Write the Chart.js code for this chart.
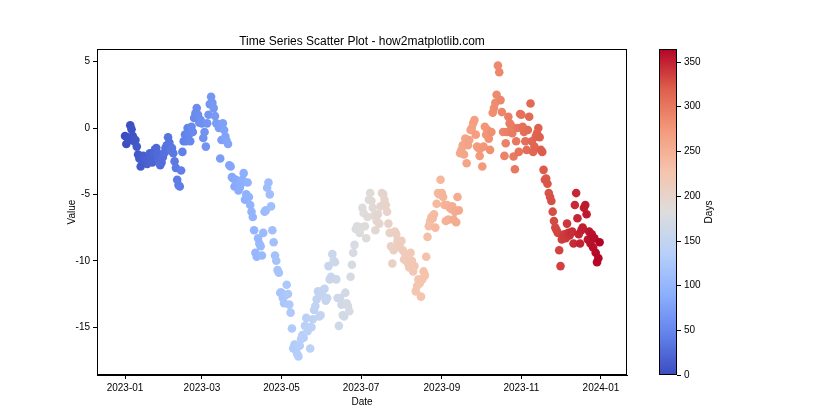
<!DOCTYPE html>
<html>
<head>
<meta charset="utf-8">
<script src="https://cdn.jsdelivr.net/npm/chart.js@4.4.1/dist/chart.umd.min.js"></script>
<style>
  html, body { margin: 0; padding: 0; background: #fff; }
  #wrap { width: 840px; height: 420px; position: relative; }
</style>
</head>
<body>
<div id="wrap"><canvas id="chart"></canvas></div>
<script>
// day-of-year ticks on the date axis
const tickDays = [0, 59, 120, 181, 243, 304, 365];
const tickLabels = ["2023-01", "2023-03", "2023-05", "2023-07", "2023-09", "2023-11", "2024-01"];
const yTicks = [-15, -10, -5, 0, 5];
const cbarTicks = [0, 50, 100, 150, 200, 250, 300, 350];

// daily values, one array per month of 2023
const jan = [-0.6, -1.2, -0.7, -0.9, 0.2, -0.1, -0.6, -1.0, -0.9, -1.4, -2.0, -2.3, -2.9, -2.4, -2.1, -2.2,
  -2.5, -2.7, -2.3, -1.9, -2.2, -2.6, -2.0, -1.6, -1.5, -1.9, -2.4, -2.8, -2.6, -2.2, -1.9];
const feb = [-1.5, -1.3, -0.7, -1.1, -1.7, -1.5, -1.9, -2.5, -3.0, -3.9, -4.3, -4.4, -3.2, -1.8, -1.0, -0.5,
  -1.0, 0.0, -0.5, -1.0, 0.1, -0.3, 0.75, 1.1, 1.5, 1.0, 0.4, 0.6];
const mar = [0.35, -0.75, -0.3, -1.4, 0.35, 1.0, 1.8, 2.35, 1.9, 1.5, 0.9, 0.35, 0.3, 0.0, -2.3, -0.9,
  0.35, -0.15, -0.65, -1.0, -1.2, -2.8, -2.9, -3.7, -3.8, -4.4, -3.9, -4.0, -4.7, -4.5, -4.2];
const apr = [-3.9, -3.4, -5.4, -5.0, -4.1, -5.2, -5.8, -6.3, -6.7, -7.7, -9.4, -9.7, -8.3, -8.7, -8.9, -9.6,
  -7.9, -6.3, -6.2, -4.5, -4.1, -5.0, -5.9, -7.7, -8.6, -9.6, -10.0, -10.7, -10.9, -12.4];
const may = [-12.4, -12.8, -13.2, -12.6, -11.8, -12.5, -13.3, -13.9, -15.1, -16.6, -16.3, -16.7, -17.0, -17.2,
  -16.4, -15.9, -15.6, -15.8, -14.9, -14.3, -15.3, -15.0, -16.6, -15.0, -14.4, -13.7, -13.4, -12.9, -12.3,
  -14.2, -14.1];
const jun = [-12.6, -12.2, -12.1, -13.0, -12.8, -10.4, -11.4, -11.2, -9.5, -10.0, -10.1, -11.4, -12.8, -14.9,
  -12.8, -13.3, -14.1, -14.2, -12.4, -13.2, -13.4, -13.8, -11.2, -10.3, -9.4, -8.8, -7.6, -7.4, -7.5, -7.9];
const jul = [-7.5, -6.0, -6.4, -7.4, -8.3, -6.7, -5.4, -4.9, -5.5, -6.0, -6.6, -7.7, -7.0, -6.5, -7.2, -5.9,
  -4.9, -5.0, -5.4, -5.8, -6.3, -7.2, -7.9, -8.9, -10.2, -9.2, -7.8, -8.0, -8.5, -8.8, -9.0];
const aug = [-8.5, -9.2, -9.9, -9.5, -10.0, -10.2, -10.5, -9.4, -10.0, -10.8, -10.4, -12.3, -11.9, -11.4,
  -11.7, -12.7, -11.4, -10.8, -11.1, -9.7, -8.2, -7.4, -7.0, -6.7, -6.8, -6.5, -7.5, -5.7, -4.9, -5.0, -3.9];
const sep = [-4.9, -5.2, -5.8, -7.0, -5.8, -6.9, -6.0, -6.1, -5.9, -6.9, -6.3, -7.1, -5.2, -6.2, -1.9, -1.65,
  -1.3, -2.0, -0.8, -2.65, -1.3, -0.9, -0.15, 0.0, 0.35, 0.6, -0.5, -1.4, -1.5, -2.1];
const oct = [-1.5, -2.9, -1.4, 0.1, -0.5, -0.15, -0.8, -1.65, -0.3, 1.15, 1.5, 1.9, 2.5, 4.7, 4.2, 2.1, 1.2,
  -0.3, -2.1, -1.15, -0.3, 0.85, 0.35, 0.2, -0.4, -2.15, -3.1, -1.0, 0.0, -1.8, 1.05];
const nov = [1.0, 0.1, -0.3, -1.0, -1.65, -0.15, 0.85, 1.85, -1.0, -1.8, -1.4, -0.65, -0.4, 0.0, -0.7, -1.65,
  -1.8, -3.15, -3.9, -3.8, -4.2, -4.9, -5.2, -5.5, -6.3, -7.0, -7.5, -7.7, -7.9, -9.2];
const dec = [-10.4, -8.4, -8.2, -8.0, -8.3, -7.2, -7.9, -8.1, -7.9, -7.8, -8.7, -5.8, -4.9, -6.8, -8.0, -8.7,
  -7.7, -7.5, -6.0, -5.8, -6.5, -8.4, -7.8, -8.7, -8.0, -9.0, -8.3, -9.4, -10.1, -9.8, -8.6];

const values = [].concat(jan, feb, mar, apr, may, jun, jul, aug, sep, oct, nov, dec);

// coolwarm colormap anchors
const cw = [
  [0.0, 59, 76, 192], [0.125, 98, 130, 234], [0.25, 141, 176, 254], [0.375, 184, 208, 249],
  [0.5, 221, 221, 221], [0.625, 245, 196, 173], [0.75, 244, 154, 123], [0.875, 222, 96, 77], [1.0, 180, 4, 38]
];
function coolwarm(t) {
  t = Math.max(0, Math.min(1, t));
  for (let i = 1; i < cw.length; i++) {
    if (t <= cw[i][0]) {
      const a = cw[i - 1], b = cw[i];
      const f = (t - a[0]) / (b[0] - a[0]);
      const r = Math.round(a[1] + f * (b[1] - a[1]));
      const g = Math.round(a[2] + f * (b[2] - a[2]));
      const bl = Math.round(a[3] + f * (b[3] - a[3]));
      return `rgb(${r},${g},${bl})`;
    }
  }
  return "rgb(180,4,38)";
}

const vmax = values.length - 1;
const points = values.map((v, i) => ({ x: i, y: v }));
const colors = values.map((v, i) => coolwarm(i / vmax));

const FONT = "'Liberation Sans', Arial, sans-serif";

const extras = {
  id: "extras",
  afterDraw(chart) {
    const ctx = chart.ctx;
    const a = chart.chartArea;
    ctx.save();
    // frame
    ctx.strokeStyle = "#000";
    ctx.lineWidth = 1;
    ctx.strokeRect(a.left + 0.5, a.top + 0.5, a.right - a.left - 1, a.bottom - a.top - 1);

    ctx.fillStyle = "#000";
    // title
    ctx.font = "12px " + FONT;
    ctx.textAlign = "center";
    ctx.textBaseline = "alphabetic";
    ctx.fillText("Time Series Scatter Plot - how2matplotlib.com", (a.left + a.right) / 2, a.top - 4);
    // axis titles
    ctx.font = "10px " + FONT;
    ctx.fillText("Date", (a.left + a.right) / 2, 405);
    ctx.save();
    ctx.translate(75, (a.top + a.bottom) / 2);
    ctx.rotate(-Math.PI / 2);
    ctx.fillText("Value", 0, 0);
    ctx.restore();

    // colorbar
    const cx = 659, cw2 = 18, ct = a.top, cb = a.bottom;
    const grad = ctx.createLinearGradient(0, cb, 0, ct);
    for (let i = 0; i <= 64; i++) grad.addColorStop(i / 64, coolwarm(i / 64));
    ctx.fillStyle = grad;
    ctx.fillRect(cx, ct, cw2, cb - ct);
    ctx.strokeStyle = "#000";
    ctx.strokeRect(cx + 0.5, ct + 0.5, cw2 - 1, cb - ct - 1);
    ctx.fillStyle = "#000";
    ctx.textAlign = "left";
    ctx.textBaseline = "middle";
    ctx.font = "10px " + FONT;
    cbarTicks.forEach(t => {
      const y = Math.round(cb - (t / vmax) * (cb - ct)) + 0.5;
      ctx.beginPath();
      ctx.moveTo(cx + cw2, y);
      ctx.lineTo(cx + cw2 + 4, y);
      ctx.stroke();
      ctx.fillText(String(t), cx + cw2 + 7, y);
    });
    ctx.save();
    ctx.translate(709, (ct + cb) / 2);
    ctx.rotate(-Math.PI / 2);
    ctx.textAlign = "center";
    ctx.fillText("Days", 0, 0);
    ctx.restore();
    ctx.restore();
  }
};

new Chart(document.getElementById("chart"), {
  type: "scatter",
  data: {
    datasets: [{
      data: points,
      backgroundColor: colors,
      borderWidth: 0,
      pointRadius: 4.3,
      pointHoverRadius: 4.3
    }]
  },
  options: {
    responsive: true,
    maintainAspectRatio: false,
    animation: false,
    layout: { padding: { left: 0, top: 49, right: 213, bottom: 0 } },
    plugins: { legend: { display: false }, tooltip: { enabled: false } },
    scales: {
      x: {
        type: "linear",
        min: -21.5,
        max: 385,
        afterBuildTicks: s => { s.ticks = tickDays.map(v => ({ value: v })); },
        afterFit: s => { s.height = 45; },
        ticks: {
          callback: v => tickLabels[tickDays.indexOf(v)],
          color: "#000",
          font: { family: FONT, size: 10 },
          padding: 3,
          maxRotation: 0,
          autoSkip: false
        },
        grid: { drawOnChartArea: false, tickLength: 4, color: "#000" },
        border: { color: "#000" }
      },
      y: {
        min: -18.6,
        max: 5.95,
        afterBuildTicks: s => { s.ticks = yTicks.map(v => ({ value: v })); },
        afterFit: s => { s.width = 97; },
        ticks: {
          color: "#000",
          font: { family: FONT, size: 10 },
          padding: 3
        },
        grid: { drawOnChartArea: false, tickLength: 4, color: "#000" },
        border: { color: "#000" }
      }
    }
  },
  plugins: [extras]
});
</script>
</body>
</html>
